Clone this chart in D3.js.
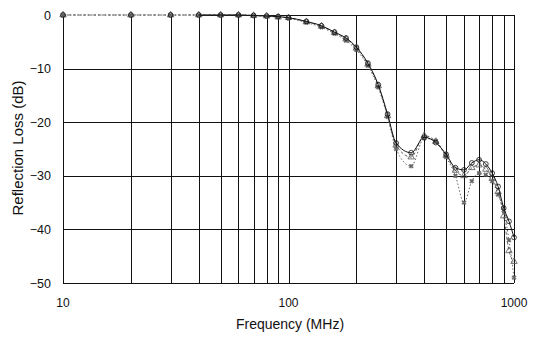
<!DOCTYPE html>
<html>
<head>
<meta charset="utf-8">
<script src="https://cdn.jsdelivr.net/npm/d3@7"></script>
<style>
  body { margin: 0; background: #fff; }
  text { font-family: "Liberation Sans", Arial, sans-serif; fill: #111; }
  .grid line { stroke: #111; stroke-width: 1; shape-rendering: crispEdges; }
</style>
</head>
<body>
<div id="chart"></div>
<script>
var width = 540, height = 339;
var margin = {top: 15, right: 26, bottom: 56, left: 63};

// data
var freqs = [10, 20, 30, 40, 50, 60, 70, 80, 90, 100, 120, 140, 160, 180, 200, 225, 250, 275,
             300, 350, 400, 450, 500, 550, 600, 650, 700, 750, 800, 850, 900, 950, 1000];
var lossA = [0, 0, 0, 0, 0, 0, -0.1, -0.2, -0.3, -0.5, -1.2, -2.0, -3.2, -4.3, -6.0, -9.0, -13.0, -18.5,
             -23.9, -25.7, -22.8, -23.8, -26.0, -28.5, -28.9, -27.6, -27.0, -27.8, -29.5, -32.0, -36.0, -38.5, -41.5];
var lossB = [0, 0, 0, 0, 0, 0, -0.1, -0.2, -0.3, -0.6, -1.4, -2.3, -3.5, -4.8, -6.5, -9.5, -13.5, -19.0,
             -25.0, -28.2, -23.0, -23.5, -26.5, -30.0, -35.0, -31.0, -29.5, -29.8, -31.0, -33.5, -36.5, -42.0, -49.0];
var lossC = [0, 0, 0, 0, 0, 0, -0.1, -0.2, -0.4, -0.5, -1.3, -2.1, -3.3, -4.5, -6.2, -9.2, -13.2, -18.8,
             -24.3, -26.5, -22.5, -23.6, -26.2, -29.0, -30.0, -28.5, -28.0, -28.8, -30.5, -33.0, -37.5, -44.0, -46.0];
var xTicks = [10, 100, 1000];
var xGrid = [10, 20, 30, 40, 50, 60, 70, 80, 90, 100, 200, 300, 400, 500, 600, 700, 800, 900, 1000];
var yTicks = [0, -10, -20, -30, -40, -50];

var svg = d3.select("#chart").append("svg")
  .attr("width", width).attr("height", height);

var x = d3.scaleLog().domain([10, 1000]).range([margin.left, width - margin.right]);
var y = d3.scaleLinear().domain([-50, 0]).range([height - margin.bottom, margin.top]);

// grid (the 0 dB line is faded out at the low end in the scan)
var grid = svg.append("g").attr("class", "grid");
grid.selectAll(".vg").data(xGrid).enter().append("line")
  .attr("x1", function(d) { return Math.round(x(d)) + 0.5; })
  .attr("x2", function(d) { return Math.round(x(d)) + 0.5; })
  .attr("y1", y(0)).attr("y2", y(-50));
grid.selectAll(".hg").data(yTicks).enter().append("line")
  .attr("x1", function(d) { return d === 0 ? x(40) : x(10); }).attr("x2", x(1000))
  .attr("y1", function(d) { return Math.round(y(d)) + 0.5; })
  .attr("y2", function(d) { return Math.round(y(d)) + 0.5; });

// tick labels
svg.append("g").selectAll("text").data(yTicks).enter().append("text")
  .attr("x", margin.left - 12).attr("y", function(d) { return y(d); })
  .attr("dy", "0.36em").attr("text-anchor", "end")
  .style("font-size", "12.5px")
  .text(function(d) { return d === 0 ? "0" : "\u2212" + Math.abs(d); });

svg.append("g").selectAll("text").data(xTicks).enter().append("text")
  .attr("x", function(d) { return x(d); }).attr("y", 303)
  .attr("dy", "0.36em").attr("text-anchor", "middle")
  .style("font-size", "12px")
  .text(function(d) { return d; });

svg.append("text").attr("x", 290).attr("y", 324).attr("dy", "0.36em")
  .attr("text-anchor", "middle").style("font-size", "14px")
  .text("Frequency (MHz)");

svg.append("text")
  .attr("transform", "translate(18," + 148 + ") rotate(-90)")
  .attr("dy", "0.36em").attr("text-anchor", "middle")
  .style("font-size", "15px")
  .text("Reflection Loss (dB)");

// series
var series = [
  {vals: lossB, stroke: "#666", dash: "1.5,2", width: 1, mark: "x"},
  {vals: lossC, stroke: "#555", dash: "3,2", width: 0.9, mark: "tri"},
  {vals: lossA, stroke: "#111", dash: null, width: 1, mark: "circle"}
];

var line = d3.line()
  .x(function(d) { return x(d[0]); })
  .y(function(d) { return y(d[1]); })
  .curve(d3.curveMonotoneX);

var g = svg.append("g");
series.forEach(function(s) {
  var pts = freqs.map(function(f, i) { return [f, s.vals[i]]; });
  // solid trace is hidden under the dotted one along the flat low-frequency part
  var linePts = s.mark === "circle" ? pts.filter(function(d) { return d[0] >= 40; }) : pts;
  g.append("path").datum(linePts)
    .attr("fill", "none").attr("stroke", s.stroke)
    .attr("stroke-width", s.width)
    .attr("stroke-dasharray", s.dash)
    .attr("d", line);

  var sym = s.mark === "circle" ? d3.symbolCircle : (s.mark === "tri" ? d3.symbolTriangle : d3.symbolCross);
  g.selectAll(null).data(pts).enter().append("path")
    .attr("transform", function(d) {
      return "translate(" + x(d[0]) + "," + y(d[1]) + ")" + (s.mark === "x" ? " rotate(45)" : "");
    })
    .attr("d", d3.symbol().type(sym).size(s.mark === "x" ? 12 : 18))
    .attr("fill", s.mark === "x" ? s.stroke : "none")
    .attr("stroke", s.stroke).attr("stroke-width", s.mark === "x" ? 0.4 : 0.8);
});
</script>
</body>
</html>
